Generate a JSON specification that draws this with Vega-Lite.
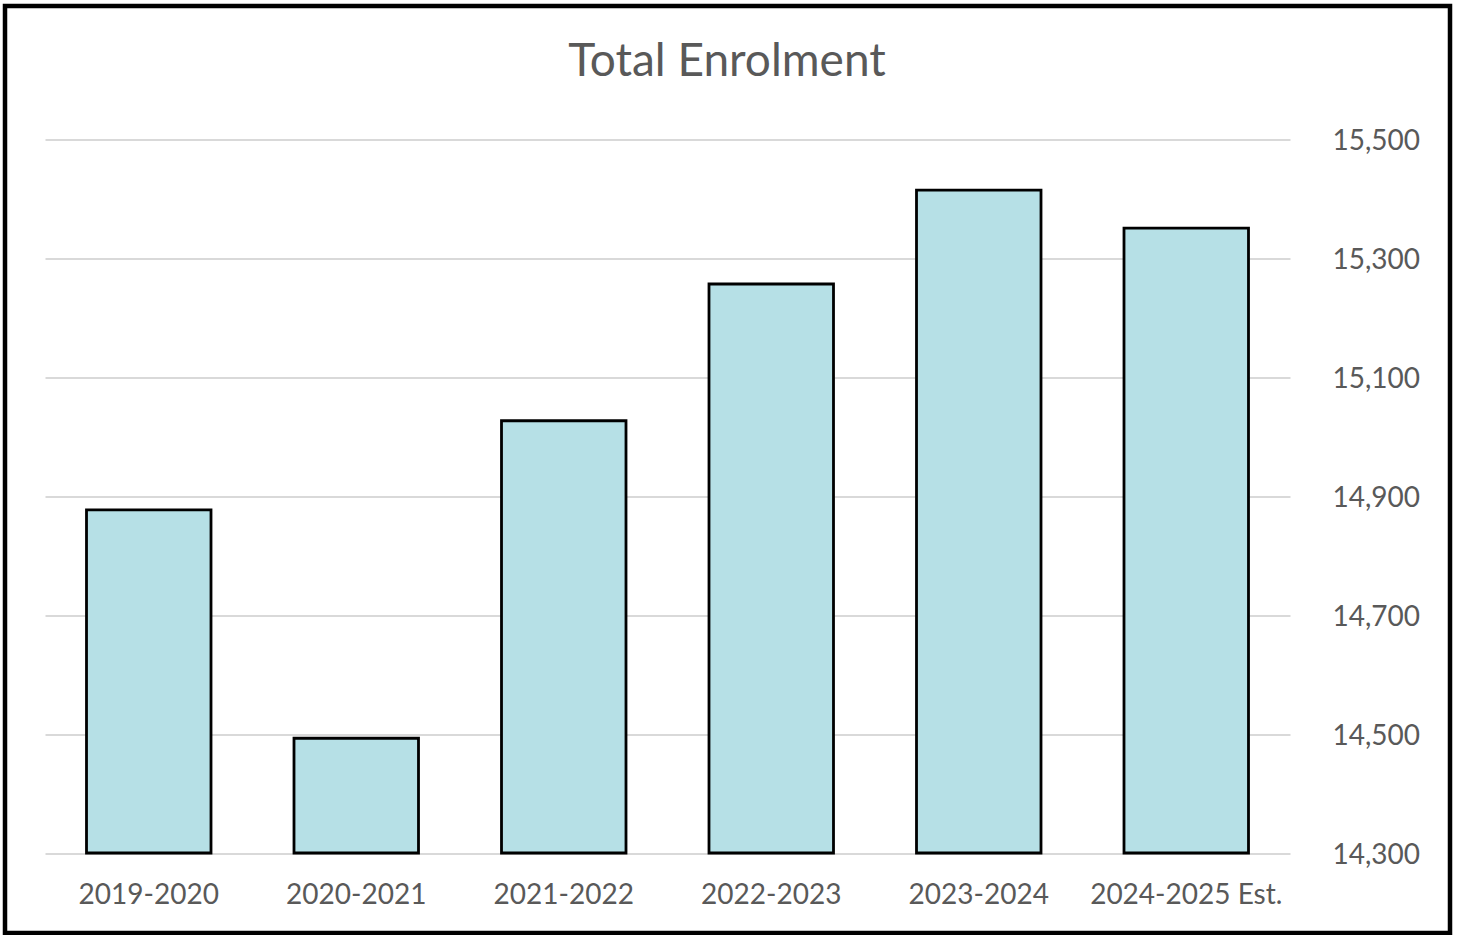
{
  "$schema": "https://vega.github.io/schema/vega-lite/v6.json",
  "autosize": {"type": "none"},
  "width": 1245,
  "height": 713.5,
  "padding": {"left": 45, "top": 139.5, "right": 170, "bottom": 82},
  "background": "white",
  "title": {
    "text": "Total Enrolment",
    "font": "Lato",
    "fontSize": 46,
    "fontWeight": "normal",
    "color": "#595959",
    "anchor": "middle",
    "baseline": "alphabetic",
    "offset": 0,
    "dx": 59.5,
    "dy": 118
  },
  "config": {
    "view": {"stroke": null},
    "axis": {"labelFont": "Lato", "labelColor": "#595959", "labelFontSize": 28}
  },
  "layer": [
    {
      "data": {
        "values": [
          {"year": "2019-2020", "enrolment": 14877},
          {"year": "2020-2021", "enrolment": 14493},
          {"year": "2021-2022", "enrolment": 15027},
          {"year": "2022-2023", "enrolment": 15257},
          {"year": "2023-2024", "enrolment": 15415},
          {"year": "2024-2025 Est.", "enrolment": 15351}
        ]
      },
      "mark": {"type": "bar", "fill": "#B6E0E6", "stroke": "#000000", "strokeWidth": 2.8},
      "encoding": {
        "x": {
          "field": "year",
          "type": "nominal",
          "sort": null,
          "scale": {"paddingInner": 0.4, "paddingOuter": 0.2},
          "axis": {
            "title": null,
            "labelAngle": 0,
            "ticks": false,
            "tickSize": 0,
            "domain": false,
            "grid": false,
            "labelBaseline": "alphabetic",
            "labelPadding": 50,
            "labelLimit": 0
          }
        },
        "y": {
          "field": "enrolment",
          "type": "quantitative",
          "scale": {"domain": [14300, 15500], "nice": false, "zero": false},
          "axis": {
            "orient": "right",
            "title": null,
            "values": [14300, 14500, 14700, 14900, 15100, 15300, 15500],
            "format": ",d",
            "ticks": false,
            "tickSize": 0,
            "domain": false,
            "grid": true,
            "gridColor": "#d9d9d9",
            "gridWidth": 2,
            "labelPadding": 42,
            "labelBaseline": "middle",
            "labelOffset": 2
          }
        },
        "y2": {"datum": 14300}
      }
    },
    {
      "data": {"values": [{}]},
      "mark": {"type": "rect", "fill": null, "stroke": "#000000", "strokeWidth": 4.5},
      "encoding": {
        "x": {"datum": 0, "type": "quantitative", "scale": {"domain": [0, 1], "range": [-40, 1405]}, "axis": null},
        "x2": {"datum": 1},
        "y": {"datum": 0, "type": "quantitative", "scale": {"domain": [0, 1], "range": [-133.5, 793.5]}, "axis": null},
        "y2": {"datum": 1}
      }
    }
  ],
  "resolve": {"scale": {"x": "independent", "y": "independent"}, "axis": {"x": "independent", "y": "independent"}}
}
